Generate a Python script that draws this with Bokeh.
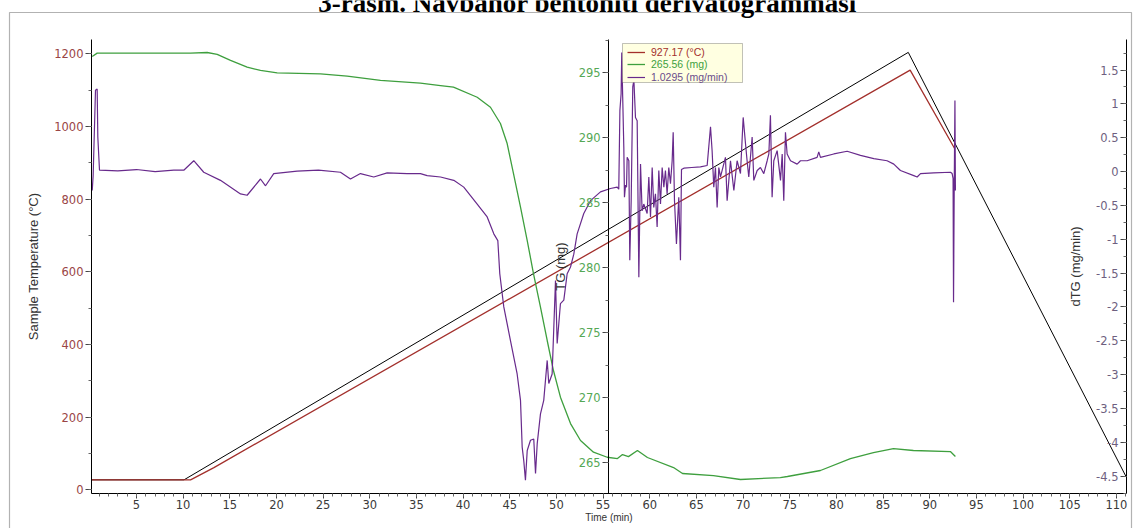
from bokeh.plotting import figure
from bokeh.models import (Range1d, LinearAxis, SingleIntervalTicker, PrintfTickFormatter,
                          Label, BoxAnnotation, Legend, LegendItem)
from bokeh.embed import file_html
from bokeh.resources import INLINE

# ---------------- data ----------------
# program (furnace) temperature, deg C
prog_time = [0.18, 10.1, 87.7, 111.08]
prog_temp = [27.5, 27.5, 1204, 34]

# sample temperature, deg C
temp_time = [0.18, 10.8, 13.3, 87.9, 92.65]
temp_sample = [27.5, 27.5, 61, 1155, 940]

# TG, mg
tg_time = [0.26, 0.79, 10.79, 12.58, 13.65, 15.08, 16.86, 18.29, 20.08, 24.72, 27.58,
           31.15, 35.43, 37.58, 38.97, 41.51, 42.93, 44.0, 44.72, 45.4, 46.15, 46.87,
           47.54, 48.29, 49.01, 49.68, 50.43, 51.51, 52.58, 53.97, 55.44, 56.54, 57.08,
           57.72, 58.68, 59.75, 62.55, 63.51, 66.82, 69.72, 73.99, 74.75, 78.29, 81.5,
           83.97, 86.11, 88.25, 92.21, 92.75]
tg_mass = [296.25, 296.51, 296.51, 296.56, 296.41, 295.95, 295.43, 295.18, 295.0, 294.92,
           294.74, 294.41, 294.2, 294.02, 293.89, 293.12, 292.35, 291.1, 289.56, 287.25,
           284.66, 282.1, 279.56, 276.97, 274.41, 272.1, 270.05, 268.02, 266.72, 265.82,
           265.43, 265.33, 265.64, 265.48, 265.95, 265.41, 264.64, 264.18, 264.02, 263.72,
           263.87, 263.95, 264.41, 265.33, 265.79, 266.1, 265.95, 265.87, 265.49]

# dTG, mg/min
dtg_time = [0.26, 0.36, 0.61, 0.79, 0.86, 1.04, 3.0, 5.0, 7.0, 9.0, 10.07, 11.14, 12.21,
            14.0, 16.15, 16.86, 18.29, 18.83, 19.71, 22.22, 24.5, 26.86, 27.93, 29.0,
            30.43, 31.86, 34.0, 35.43, 36.15, 37.58, 39.0, 40.07, 41.51, 42.58, 43.29,
            43.72, 43.93, 44.36, 45.08, 45.79, 46.15, 46.33, 46.5, 46.68, 46.87, 47.22,
            47.57, 47.76, 47.94, 48.29, 48.64, 49.01, 49.18, 49.54, 49.9, 50.08, 50.43,
            50.79, 51.15, 51.51, 51.86, 52.22, 52.93, 53.65, 54.72, 55.79, 56.51, 56.68,
            56.8, 56.93, 57.0, 57.1, 57.22, 57.29, 57.4, 57.51, 57.58, 57.76, 57.86,
            58.01, 58.18, 58.3, 58.47, 58.65, 58.83, 59.01, 59.18, 59.36, 59.72, 59.9,
            60.08, 60.26, 60.43, 60.61, 60.79, 60.97, 61.15, 61.33, 61.51, 61.68, 61.86,
            62.04, 62.22, 62.4, 62.51, 62.65, 62.86, 63.11, 63.29, 63.4, 63.65, 64.5,
            65.43, 66.15, 66.51, 66.68, 66.86, 67.04, 67.22, 67.4, 67.58, 68.11, 68.29,
            68.65, 69.01, 69.36, 69.72, 70.01, 70.26, 70.43, 70.61, 70.97, 71.15, 71.51,
            71.86, 72.22, 72.58, 72.76, 72.93, 73.11, 73.29, 73.65, 74.01, 74.19, 74.36,
            74.54, 74.72, 75.08, 75.79, 76.15, 76.86, 77.93, 78.11, 78.29, 79.72, 81.15,
            82.58, 84.01, 85.43, 86.15, 86.86, 88.29, 88.65, 89.01, 90.43, 92.22, 92.4,
            92.5, 92.55, 92.62, 92.7, 92.75]
dtg_rate = [-0.28, -0.06, 1.2, 1.22, 0.51, 0.02, 0.01, 0.03, 0.0, 0.02, 0.02, 0.16, -0.01,
            -0.13, -0.33, -0.35, -0.11, -0.21, -0.03, 0.005, 0.02, -0.01, -0.11, -0.03,
            -0.08, -0.02, -0.03, -0.03, -0.06, -0.08, -0.13, -0.23, -0.48, -0.67, -0.92,
            -1.02, -1.51, -2.0, -2.5, -2.99, -3.38, -4.07, -4.27, -4.56, -4.12, -3.97,
            -3.95, -4.46, -4.02, -3.58, -3.38, -2.79, -3.13, -2.99, -1.61, -2.54, -1.95,
            -1.9, -1.51, -1.41, -1.22, -0.92, -0.62, -0.43, -0.3, -0.25, -0.23, -0.26,
            0.9, 1.15, 1.76, 1.1, 0.36, -0.38, -0.2, -0.23, 0.21, 0.16, -1.31,
            -0.43, 1.25, 1.35, 0.8, 0.75, -1.56, 0.11, -0.58, -0.48, -0.62, -0.08,
            -0.67, 0.06, -0.53, -0.33, -0.82, 0.015, -0.48, 0.06, -0.23, 0.015, -0.33,
            0.06, -0.18, 0.16, 0.58, -0.43, -1.07, -0.38, -1.31, 0.03, 0.05, 0.06,
            0.07, 0.09, 0.66, 0.31, -0.23, 0.06, -0.53, 0.06, -0.08, 0.21, -0.43,
            0.16, -0.28, 0.16, -0.03, 0.8, 0.41, 0.16, -0.08, 0.51, -0.13, 0.015,
            0.06, -0.03, 0.16, 0.26, 0.83, -0.38, 0.16, 0.31, -0.13, 0.26, -0.43,
            0.58, 0.26, 0.16, 0.11, 0.16, 0.16, 0.21, 0.29, 0.21, 0.26, 0.30,
            0.24, 0.19, 0.16, 0.11, 0.015, -0.06, -0.08, -0.03, -0.02, -0.01, -0.03,
            -0.1, -1.93, -0.3, 1.05, -0.28]

legend_labels = ["927.17 (°C)", "265.56 (mg)", "1.0295 (mg/min)"]
title_text = "3-rasm. Navbahor bentoniti derivatogrammasi"

# axis extents (data area)
time_bounds = (0.18, 111.08)
temp_bounds = (-10.2, 1240.5)
tg_bounds = (262.64, 297.56)
dtg_bounds = (-4.756, 1.95)

# ---------------- styling ----------------
RED = "#A3302C"
GREEN = "#3E9F3E"
PURPLE = "#682A8C"
TICK_FONT = "DejaVu Sans"
LABEL_FONT = "Liberation Sans"

W, H = 1134, 528
p = figure(width=W, height=H, x_range=Range1d(-9.568, 111.94),
           y_range=Range1d(-106.5, 1346.8), output_backend="svg", toolbar_location=None,
           min_border_left=0, min_border_right=0, min_border_top=0, min_border_bottom=0)
p.extra_y_ranges = {"tg": Range1d(259.95, 300.56), "dtg": Range1d(-5.273, 2.527)}
p.outline_line_color = None
p.grid.visible = False
p.background_fill_color = "white"
p.border_fill_color = "white"


def style_axis(ax, color):
    ax.axis_line_color = "black"
    ax.major_tick_line_color = "#444444"
    ax.minor_tick_line_color = "#666666"
    ax.major_tick_in = 0
    ax.major_tick_out = 6
    ax.minor_tick_in = 0
    ax.minor_tick_out = 3
    ax.major_label_text_font = TICK_FONT
    ax.major_label_text_font_size = "11.5px"
    ax.major_label_text_color = color
    ax.major_label_standoff = 2
    ax.axis_label_text_font = LABEL_FONT
    ax.axis_label_text_font_style = "normal"
    ax.axis_label_text_font_size = "13px"
    ax.axis_label_text_color = "#333333"


xa = p.xaxis[0]
xa.fixed_location = temp_bounds[0]
xa.bounds = time_bounds
xa.ticker = SingleIntervalTicker(interval=5, num_minor_ticks=5)
style_axis(xa, "#3a3a3a")
xa.major_tick_out = 5
xa.axis_label = "Time (min)"
xa.axis_label_text_font_size = "10px"
xa.axis_label_standoff = 0
xa.major_label_standoff = 1

ya = p.yaxis[0]
ya.fixed_location = time_bounds[0]
ya.bounds = temp_bounds
ya.ticker = SingleIntervalTicker(interval=200, num_minor_ticks=2)
style_axis(ya, "#9A4545")
ya.axis_label = "Sample Temperature (°C)"
ya.axis_label_standoff = 10

tg_axis = LinearAxis(y_range_name="tg", fixed_location=55.6, bounds=tg_bounds,
                     axis_label="TG (mg)",
                     ticker=SingleIntervalTicker(interval=5, num_minor_ticks=2))
style_axis(tg_axis, "#55A855")
tg_axis.axis_label_standoff = 8
p.add_layout(tg_axis, "left")

dtg_axis = LinearAxis(y_range_name="dtg", fixed_location=time_bounds[1], bounds=dtg_bounds,
                      axis_label="dTG (mg/min)",
                      ticker=SingleIntervalTicker(interval=0.5, num_minor_ticks=2),
                      formatter=PrintfTickFormatter(format="%g"))
style_axis(dtg_axis, "#6E5F80")
dtg_axis.axis_label_standoff = 10
p.add_layout(dtg_axis, "left")

# ---------------- curves ----------------
p.line(prog_time, prog_temp, color="black", line_width=1)
r_temp = p.line(temp_time, temp_sample, color=RED, line_width=1.3)
r_tg = p.line(tg_time, tg_mass, y_range_name="tg", color=GREEN, line_width=1.3)
r_dtg = p.line(dtg_time, dtg_rate, y_range_name="dtg", color=PURPLE, line_width=1.2)

# ---------------- outer frame and title ----------------
p.add_layout(BoxAnnotation(left=9, right=1131, top=12, bottom=640,
                           left_units="canvas", right_units="canvas",
                           top_units="canvas", bottom_units="canvas",
                           fill_alpha=0, line_color="black", line_width=1.2))
p.add_layout(Label(x=587, y=2, x_units="canvas", y_units="canvas", text=title_text,
                   text_font="Liberation Serif", text_font_style="bold",
                   text_font_size="27px", text_align="center",
                   text_baseline="alphabetic", text_color="black"))

# ---------------- legend box ----------------
p.add_layout(BoxAnnotation(left=622, right=742, top=43, bottom=82,
                           left_units="canvas", right_units="canvas",
                           top_units="canvas", bottom_units="canvas",
                           fill_color="#FFFFE1", fill_alpha=1, line_color="#333333",
                           line_width=1))

rows = [(r_temp, RED, 470.5), (r_tg, GREEN, 458), (r_dtg, "#6A4C8C", 445.5)]
for (rend, col, vy), lab in zip(rows, legend_labels):
    lg = Legend(items=[LegendItem(label=lab, renderers=[rend])], location=(627, vy),
                padding=0, margin=0, spacing=0, glyph_width=18, glyph_height=12,
                label_height=12, label_standoff=6, label_text_font=LABEL_FONT,
                label_text_font_size="10.5px", label_text_color=col,
                border_line_color=None, background_fill_alpha=0)
    p.add_layout(lg)

open("out.html", "w").write(file_html(p, INLINE))
